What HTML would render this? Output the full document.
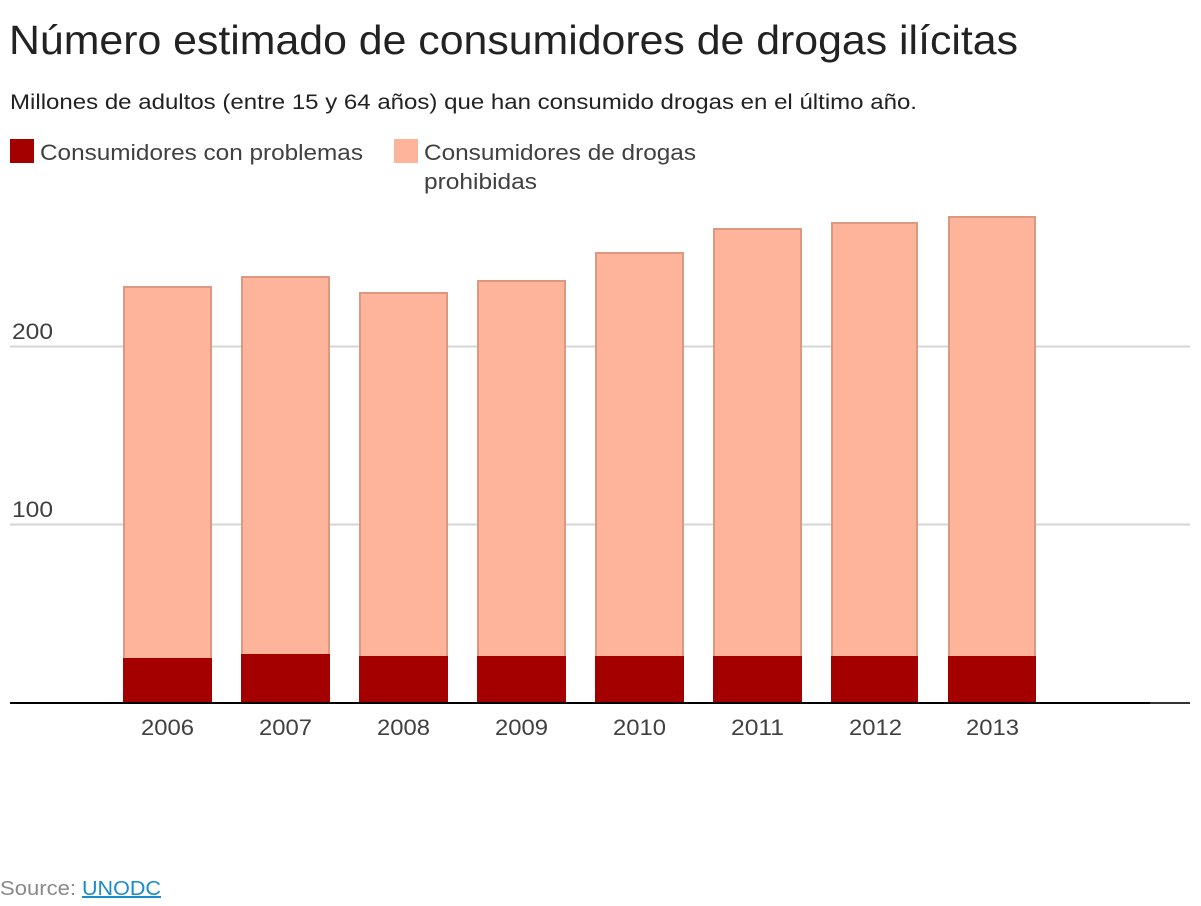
<!DOCTYPE html>
<html><head><meta charset="utf-8"><style>
body{margin:0;background:#fff;width:1201px;height:901px;overflow:hidden;font-family:"Liberation Sans",sans-serif;color:#222}
</style></head><body>
<svg width="1201" height="901" xmlns="http://www.w3.org/2000/svg" font-family="Liberation Sans, sans-serif">
<text x="9" y="54" font-size="41" fill="#222" textLength="1009" lengthAdjust="spacingAndGlyphs">Número estimado de consumidores de drogas ilícitas</text>
<text x="10" y="109" font-size="21" fill="#222" textLength="907" lengthAdjust="spacingAndGlyphs">Millones de adultos (entre 15 y 64 años) que han consumido drogas en el último año.</text>
<rect x="10" y="139" width="24" height="24" fill="#a50000"/>
<text x="40" y="160" font-size="22" fill="#404040" textLength="323" lengthAdjust="spacingAndGlyphs">Consumidores con problemas</text>
<rect x="394" y="139" width="24" height="24" fill="#fdb49b"/>
<text x="424" y="160" font-size="22" fill="#404040" textLength="272" lengthAdjust="spacingAndGlyphs">Consumidores de drogas</text>
<text x="424" y="189" font-size="22" fill="#404040" textLength="113" lengthAdjust="spacingAndGlyphs">prohibidas</text>
<line x1="10" y1="346.5" x2="1190" y2="346.5" stroke="#d5d5d5" stroke-width="2"/>
<line x1="10" y1="524.5" x2="1190" y2="524.5" stroke="#d5d5d5" stroke-width="2"/>
<text x="12" y="339" font-size="22" fill="#404040" textLength="41" lengthAdjust="spacingAndGlyphs">200</text>
<text x="12" y="517" font-size="22" fill="#404040" textLength="41" lengthAdjust="spacingAndGlyphs">100</text>
<g stroke="#de9882" stroke-width="2" fill="#fdb49b">
<rect x="124" y="287" width="87" height="372"/>
<rect x="242" y="277" width="87" height="378"/>
<rect x="360" y="293" width="87" height="364"/>
<rect x="478" y="281" width="87" height="376"/>
<rect x="596" y="253" width="87" height="404"/>
<rect x="714" y="229" width="87" height="428"/>
<rect x="832" y="223" width="85" height="434"/>
<rect x="949" y="217" width="86" height="440"/>
</g>
<g fill="#a50000">
<rect x="123" y="658" width="89" height="45"/>
<rect x="241" y="654" width="89" height="49"/>
<rect x="359" y="656" width="89" height="47"/>
<rect x="477" y="656" width="89" height="47"/>
<rect x="595" y="656" width="89" height="47"/>
<rect x="713" y="656" width="89" height="47"/>
<rect x="831" y="656" width="87" height="47"/>
<rect x="948" y="656" width="88" height="47"/>
</g>
<line x1="10" y1="703" x2="1150" y2="703" stroke="#000" stroke-width="2"/>
<line x1="1150" y1="703" x2="1190" y2="703" stroke="#333" stroke-width="2"/>
<g font-size="22" fill="#404040">
<text x="141" y="735" textLength="53" lengthAdjust="spacingAndGlyphs">2006</text>
<text x="259" y="735" textLength="53" lengthAdjust="spacingAndGlyphs">2007</text>
<text x="377" y="735" textLength="53" lengthAdjust="spacingAndGlyphs">2008</text>
<text x="495" y="735" textLength="53" lengthAdjust="spacingAndGlyphs">2009</text>
<text x="613" y="735" textLength="53" lengthAdjust="spacingAndGlyphs">2010</text>
<text x="731" y="735" textLength="53" lengthAdjust="spacingAndGlyphs">2011</text>
<text x="849" y="735" textLength="53" lengthAdjust="spacingAndGlyphs">2012</text>
<text x="966" y="735" textLength="53" lengthAdjust="spacingAndGlyphs">2013</text>
</g>
<text x="0" y="895" font-size="20" fill="#8a8a8a" textLength="76" lengthAdjust="spacingAndGlyphs">Source:</text>
<text x="82" y="895" font-size="20" fill="#1a8ccc" text-decoration="underline" textLength="79" lengthAdjust="spacingAndGlyphs">UNODC</text>
</svg>
</body></html>
